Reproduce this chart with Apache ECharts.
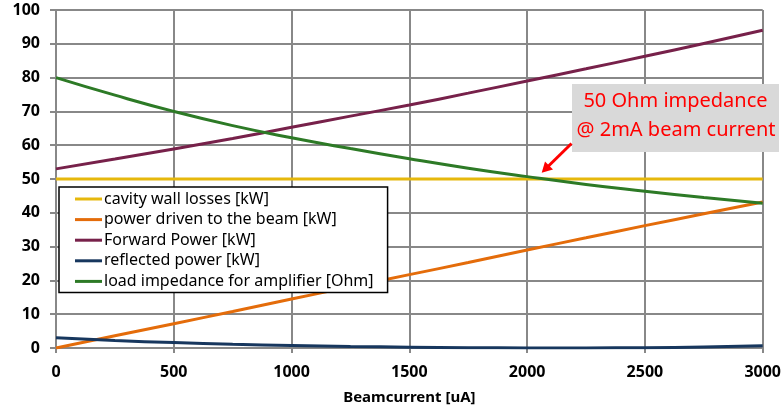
<!DOCTYPE html>
<html>
<head>
<meta charset="utf-8">
<script src="https://cdn.jsdelivr.net/npm/echarts@6/dist/echarts.min.js"></script>
<style>html,body{margin:0;padding:0;background:#fff;}#c{width:784px;height:410px;}</style>
</head>
<body>
<div id="c"></div>
<script>
const beamCurrent = [0, 250, 500, 750, 1000, 1250, 1500, 1750, 2000, 2250, 2500, 2750, 3000];
const wallLosses = [50, 50, 50, 50, 50, 50, 50, 50, 50, 50, 50, 50, 50];
const beamPower = [0, 3.6, 7.2, 10.8, 14.5, 18.1, 21.7, 25.3, 29.0, 32.6, 36.2, 39.7, 43.2];
const forwardPower = [53.0, 55.9, 58.9, 62.0, 65.3, 68.6, 71.9, 75.4, 79.0, 82.6, 86.3, 90.1, 94.0];
const reflectedPower = [3.0, 2.2, 1.6, 1.1, 0.75, 0.45, 0.25, 0.1, 0.03, 0.03, 0.1, 0.3, 0.7];
const loadImpedance = [80.0, 74.8, 70.0, 65.8, 62.2, 59.0, 56.0, 53.2, 50.7, 48.4, 46.4, 44.5, 42.8];
const seriesNames = ['cavity wall losses [kW]', 'power driven to the beam [kW]', 'Forward Power [kW]', 'reflected power [kW]', 'load impedance for amplifier [Ohm]'];
const seriesColors = ['#E6B80C', '#E46C0A', '#77214A', '#17375E', '#2D7A26'];
const seriesData = [wallLosses, beamPower, forwardPower, reflectedPower, loadImpedance];
const xTitle = 'Beamcurrent [uA]';
const noteLines = ['50 Ohm impedance', '@ 2mA beam current'];

const chart = echarts.init(document.getElementById('c'));
const FONT = '"Noto Sans", "DejaVu Sans", sans-serif';
chart.setOption({
  animation: false,
  backgroundColor: '#fff',
  grid: { left: 56, right: 20, top: 10, bottom: 62 },
  xAxis: {
    type: 'value', min: 0, max: 3000, interval: 500,
    name: xTitle, nameLocation: 'middle', nameGap: 42,
    nameTextStyle: { fontFamily: FONT, fontWeight: 'bold', fontSize: 15, color: '#000' },
    axisLine: { show: true, lineStyle: { color: '#888', width: 2 } },
    axisTick: { show: true, length: 5, lineStyle: { color: '#888', width: 2 } },
    axisLabel: { fontFamily: FONT, fontWeight: 'bold', fontSize: 16, color: '#000', margin: 16, formatter: v => String(v) },
    splitLine: { show: true, lineStyle: { color: '#888', width: 2 } }
  },
  yAxis: {
    type: 'value', min: 0, max: 100, interval: 10,
    axisLine: { show: true, lineStyle: { color: '#888', width: 2 } },
    axisTick: { show: true, length: 6, lineStyle: { color: '#888', width: 2 } },
    axisLabel: { fontFamily: FONT, fontWeight: 'bold', fontSize: 16, color: '#000', margin: 16 },
    splitLine: { show: true, lineStyle: { color: '#888', width: 2 } }
  },
  legend: {
    orient: 'vertical', left: 59, top: 187,
    padding: [4, 14, 3, 16],
    itemGap: 4.6,
    itemWidth: 27, itemHeight: 3,
    icon: 'rect',
    backgroundColor: '#fff',
    borderColor: '#000', borderWidth: 1.5,
    textStyle: { fontFamily: FONT, fontSize: 16, lineHeight: 16, color: '#000', padding: [0, 0, 0, -3] },
    data: seriesNames
  },
  series: seriesNames.map((n, i) => ({
    name: n, type: 'line', smooth: true, symbol: 'none',
    data: beamCurrent.map((x, j) => [x, seriesData[i][j]]),
    lineStyle: { color: seriesColors[i], width: 3 },
    itemStyle: { color: seriesColors[i] },
    z: i === 0 ? 2 : 3
  })),
  graphic: [
    { type: 'rect', shape: { x: 572, y: 84, width: 207, height: 68 }, style: { fill: '#D9D9D9' }, z: 10 },
    { type: 'text', x: 675.5, y: 101, style: { text: noteLines[0], fill: '#FF0000', font: '20px ' + FONT, textAlign: 'center', textVerticalAlign: 'middle' }, z: 11 },
    { type: 'text', x: 676, y: 130, style: { text: noteLines[1], fill: '#FF0000', font: '20px ' + FONT, textAlign: 'center', textVerticalAlign: 'middle' }, z: 11 },
    { type: 'line', shape: { x1: 571.5, y1: 143.5, x2: 548, y2: 166.5 }, style: { stroke: '#FF0000', lineWidth: 3 }, z: 11 },
    { type: 'polygon', shape: { points: [[541.7, 172.7], [553, 169.5], [545, 161.5]] }, style: { fill: '#FF0000' }, z: 11 }
  ]
});
</script>
</body>
</html>
